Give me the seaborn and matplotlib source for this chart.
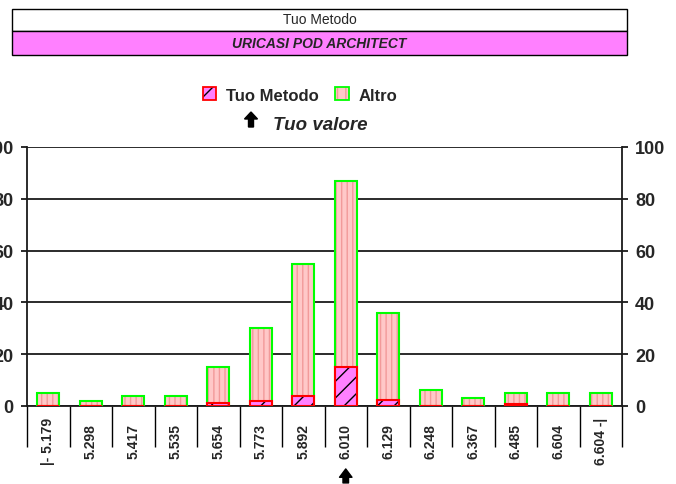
import matplotlib
matplotlib.use('Agg')
import matplotlib.pyplot as plt
import matplotlib.patches as mpatches
from matplotlib.legend_handler import HandlerTuple
import seaborn as sns
import pandas as pd

# dati
categories = ['|- 5.179', '5.298', '5.417', '5.535', '5.654', '5.773', '5.892',
              '6.010', '6.129', '6.248', '6.367', '6.485', '6.604', '6.604 -|']
tuo_metodo = [0, 0, 0, 0, 1, 2, 4, 15, 2.5, 0, 0, 0.6, 0, 0]
totale = [5, 2, 4, 4, 15, 30, 55, 87, 36, 6, 3, 5, 5, 5]
altro = [t - m for t, m in zip(totale, tuo_metodo)]
tuo_valore = '6.010'
y_ticks = [0, 20, 40, 60, 80, 100]

sns.set_style('white')
plt.rcParams['font.family'] = ['Liberation Sans', 'DejaVu Sans']
plt.rcParams['hatch.linewidth'] = 1.0

df = pd.DataFrame({'classe': categories, 'totale': totale, 'tuo': tuo_metodo, 'altro': altro})

fig = plt.figure(figsize=(6.76, 4.85), dpi=100)
ax = fig.add_axes([27 / 676, 78 / 485, 595 / 676, 259 / 485])

# Altro (barra totale): riempimento a strisce + bordo verde
sns.barplot(data=df, x='classe', y='totale', color='#FFC8C8', saturation=1, width=0.52,
            edgecolor='#F29A9A', linewidth=0, hatch='|||', errorbar=None, ax=ax, zorder=3)
sns.barplot(data=df, x='classe', y='totale', color='#00FF00', fill=False, width=0.52,
            linewidth=1.5, errorbar=None, ax=ax, zorder=3)
# Tuo Metodo: riempimento tratteggiato + bordo rosso
sns.barplot(data=df, x='classe', y='tuo', color='#FF80FF', saturation=1, width=0.52,
            edgecolor='black', linewidth=0, hatch='//', errorbar=None, ax=ax, zorder=3)
sns.barplot(data=df, x='classe', y='tuo', color='#FF0000', fill=False, width=0.52,
            linewidth=1.5, errorbar=None, ax=ax, zorder=3)

ax.set_ylim(0, 100)
ax.set_xlim(-0.5, len(categories) - 0.5)
ax.set_yticks(y_ticks)
ax.set_xlabel('')
ax.set_ylabel('')
ax.yaxis.grid(True, color='#1a1a1a', linewidth=1.3)
ax.set_axisbelow(True)
for s in ax.spines.values():
    s.set_color('#1a1a1a')
    s.set_linewidth(1.3)
ax.spines['top'].set_visible(False)

ax.tick_params(axis='y', left=True, right=True, labelleft=True, labelright=True,
               length=4.5, width=1.3, color='#1a1a1a', pad=5, labelsize=13)
for lab in ax.get_yticklabels():
    lab.set_fontweight('bold')

# separatori sotto l'asse (tick minori lunghi) e etichette verticali
ax.set_xticks([i - 0.5 for i in range(len(categories) + 1)], minor=True)
ax.tick_params(axis='x', which='minor', bottom=True, length=29.5, width=1, color='black',
               direction='out')
ax.tick_params(axis='x', which='major', bottom=True, length=0, pad=25, labelsize=10)
ax.set_xticks(range(len(categories)))
ax.set_xticklabels(categories, rotation=90, fontweight='bold', va='center')

# freccia sotto il tuo valore
xi = categories.index(tuo_valore)
ax.annotate('', xy=(xi, -0.243), xycoords=('data', 'axes fraction'),
            xytext=(xi, -0.297), textcoords=('data', 'axes fraction'),
            arrowprops=dict(arrowstyle='simple,head_length=0.6,head_width=0.9,tail_width=0.4',
                            color='black', shrinkA=0, shrinkB=0),
            annotation_clip=False)

# intestazione
x0, w = 12 / 676, 615 / 676
fig.patches.append(mpatches.Rectangle((x0, 1 - 32 / 485), w, 22 / 485, transform=fig.transFigure,
                                      facecolor='white', edgecolor='black', linewidth=1))
fig.patches.append(mpatches.Rectangle((x0, 1 - 56 / 485), w, 24 / 485, transform=fig.transFigure,
                                      facecolor='#FF80FF', edgecolor='black', linewidth=1))
fig.text(x0 + w / 2, 1 - 20 / 485, 'Tuo Metodo', ha='center', va='center', fontsize=10)
fig.text(x0 + w / 2, 1 - 44 / 485, 'URICASI POD ARCHITECT', ha='center', va='center',
         fontsize=10, fontweight='bold', fontstyle='italic')

# legenda
h_tuo = (mpatches.Patch(facecolor='#FF80FF', edgecolor='black', hatch='/', linewidth=0),
         mpatches.Patch(facecolor='none', edgecolor='#FF0000', linewidth=1.3))
h_altro = (mpatches.Patch(facecolor='#FFC8C8', edgecolor='#F29A9A', hatch='||', linewidth=0),
           mpatches.Patch(facecolor='none', edgecolor='#00FF00', linewidth=1.3))
fig.legend([h_tuo, h_altro], ['Tuo Metodo', 'Altro'], handler_map={tuple: HandlerTuple(ndivide=1)},
           loc='center', bbox_to_anchor=(300 / 676, 1 - 96 / 485), ncol=2, frameon=False,
           prop={'weight': 'bold', 'size': 12}, handlelength=0.8, handleheight=0.8,
           handletextpad=0.6, columnspacing=1.0)

# "Tuo valore"
fig.patches.append(mpatches.FancyArrow(251 / 676, 1 - 128 / 485, 0, 15 / 485, width=5 / 676,
                                       head_width=13 / 676, head_length=7 / 485,
                                       length_includes_head=True, transform=fig.transFigure,
                                       color='black'))
fig.text(273 / 676, 1 - 125 / 485, 'Tuo valore', ha='left', va='center', fontsize=13.5,
         fontweight='bold', fontstyle='italic')

fig.savefig('out.png', dpi=100)
